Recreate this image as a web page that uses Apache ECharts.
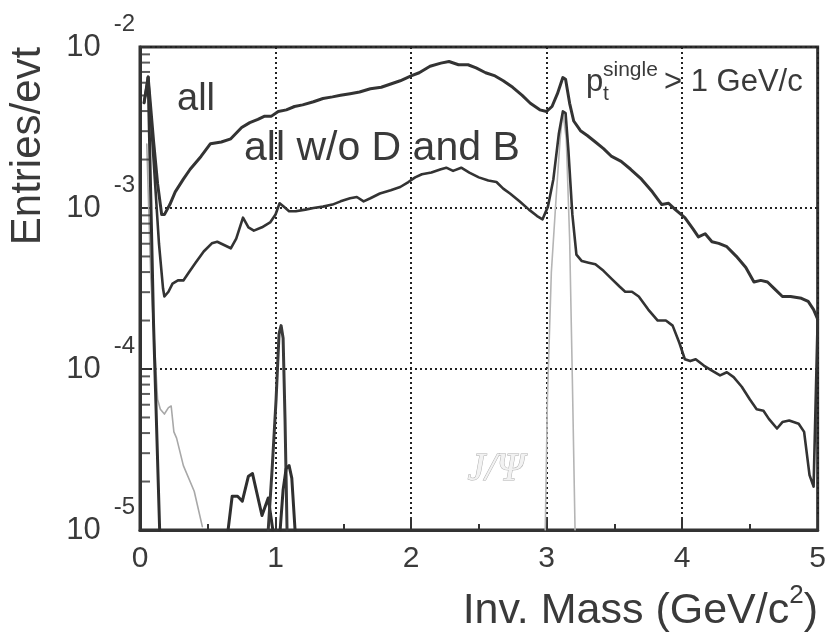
<!DOCTYPE html>
<html>
<head>
<meta charset="utf-8">
<script src="https://cdn.jsdelivr.net/npm/echarts@6/dist/echarts.min.js"></script>
<style>
  html, body { margin: 0; padding: 0; background: #ffffff; }
  #chart { width: 829px; height: 636px; }
</style>
</head>
<body>
<div id="chart"></div>
<script>
// ---------- DATA ----------
// x: invariant mass (GeV/c^2); y: entries per event
const allX = [0.03,0.06,0.10,0.13,0.16,0.18,0.22,0.26,0.32,0.37,0.45,0.52,0.60,0.67,0.75,0.81,0.87,0.92,0.97,1.02,1.08,1.14,1.20,1.28,1.35,1.42,1.48,1.55,1.62,1.70,1.78,1.85,1.92,2.00,2.06,2.14,2.22,2.28,2.35,2.42,2.48,2.55,2.62,2.68,2.75,2.82,2.88,2.95,3.00,3.04,3.08,3.12,3.14,3.17,3.20,3.25,3.30,3.36,3.42,3.48,3.55,3.62,3.70,3.78,3.85,3.90,3.95,4.02,4.08,4.12,4.17,4.22,4.27,4.33,4.40,4.47,4.53,4.58,4.63,4.68,4.74,4.80,4.88,4.93,4.97,5.00];
const allY = [4.5e-3,6.5e-3,2.6e-3,1.41e-3,9.1e-4,9.1e-4,1.05e-3,1.26e-3,1.51e-3,1.74e-3,2.09e-3,2.51e-3,2.57e-3,2.69e-3,3.16e-3,3.39e-3,3.55e-3,3.72e-3,3.72e-3,3.98e-3,4.07e-3,4.27e-3,4.37e-3,4.57e-3,4.79e-3,4.90e-3,5.01e-3,5.13e-3,5.25e-3,5.50e-3,5.62e-3,5.89e-3,6.17e-3,6.61e-3,6.92e-3,7.59e-3,7.94e-3,8.13e-3,7.76e-3,7.76e-3,7.41e-3,6.92e-3,6.61e-3,6.17e-3,5.62e-3,5.01e-3,4.47e-3,4.07e-3,3.98e-3,4.27e-3,5.13e-3,6.46e-3,6.31e-3,4.47e-3,3.47e-3,3.02e-3,2.82e-3,2.57e-3,2.34e-3,2.09e-3,1.95e-3,1.74e-3,1.51e-3,1.26e-3,1.05e-3,1.07e-3,9.77e-4,8.71e-4,7.41e-4,6.61e-4,6.92e-4,6.17e-4,6.03e-4,5.75e-4,5.01e-4,4.27e-4,3.47e-4,3.55e-4,3.47e-4,3.16e-4,2.82e-4,2.82e-4,2.75e-4,2.63e-4,2.34e-4,2.04e-4];

const woX = [0.03,0.06,0.10,0.14,0.17,0.18,0.21,0.24,0.28,0.32,0.36,0.41,0.47,0.53,0.57,0.62,0.67,0.71,0.76,0.80,0.84,0.90,0.96,1.00,1.03,1.06,1.10,1.15,1.22,1.28,1.35,1.42,1.48,1.55,1.60,1.65,1.70,1.77,1.85,1.92,1.98,2.03,2.08,2.15,2.22,2.26,2.31,2.37,2.43,2.50,2.57,2.63,2.68,2.73,2.80,2.87,2.93,2.97,3.01,3.05,3.09,3.12,3.14,3.16,3.19,3.22,3.26,3.31,3.36,3.42,3.48,3.54,3.58,3.63,3.68,3.75,3.82,3.88,3.93,3.98,4.02,4.06,4.10,4.16,4.22,4.28,4.33,4.38,4.44,4.50,4.55,4.60,4.64,4.70,4.74,4.79,4.86,4.90,4.94,4.97,5.00];
const woY = [4.5e-3,6.5e-3,2.0e-3,6.0e-4,3.16e-4,2.82e-4,3.02e-4,3.39e-4,3.55e-4,3.55e-4,3.98e-4,4.57e-4,5.37e-4,6.03e-4,6.17e-4,5.89e-4,5.62e-4,6.46e-4,8.71e-4,7.59e-4,7.24e-4,7.59e-4,8.13e-4,9.12e-4,1.07e-3,1.02e-3,9.55e-4,9.55e-4,9.77e-4,1.0e-3,1.02e-3,1.05e-3,1.10e-3,1.15e-3,1.17e-3,1.10e-3,1.15e-3,1.23e-3,1.29e-3,1.35e-3,1.45e-3,1.55e-3,1.62e-3,1.66e-3,1.74e-3,1.78e-3,1.70e-3,1.78e-3,1.66e-3,1.55e-3,1.48e-3,1.45e-3,1.32e-3,1.23e-3,1.10e-3,9.77e-4,8.91e-4,8.51e-4,1.02e-3,1.51e-3,2.88e-3,3.98e-3,3.89e-3,2.34e-3,9.12e-4,5.13e-4,4.68e-4,4.57e-4,4.47e-4,4.07e-4,3.63e-4,3.24e-4,3.02e-4,3.02e-4,2.82e-4,2.34e-4,2.0e-4,2.0e-4,1.86e-4,1.45e-4,1.15e-4,1.12e-4,1.15e-4,1.05e-4,9.77e-5,9.12e-5,9.55e-5,8.91e-5,7.76e-5,6.46e-5,5.62e-5,5.50e-5,4.90e-5,4.27e-5,4.68e-5,4.79e-5,4.57e-5,4.07e-5,2.19e-5,1.86e-5,2.04e-4];

const lowMassX = [0.06,0.10,0.145];
const lowMassY = [6.5e-3,1.9e-4,1.0e-5];

const dalitzX = [0.05,0.08,0.13,0.15,0.18,0.21,0.23,0.25,0.27,0.32,0.40,0.46];
const dalitzY = [2.5e-3,3.63e-4,6.46e-5,5.62e-5,5.25e-5,5.75e-5,5.89e-5,4.07e-5,3.72e-5,2.51e-5,1.74e-5,1.05e-5];

const rhoX = [0.65,0.68,0.72,0.755,0.80,0.83,0.90,0.946,0.98];
const rhoY = [1.0e-5,1.62e-5,1.62e-5,1.51e-5,2.16e-5,2.24e-5,1.23e-5,1.58e-5,1.0e-5];

const phiX = [0.946,0.975,1.004,1.026,1.041,1.056,1.070,1.078,1.085];
const phiY = [1.0e-5,2.4e-5,6.46e-5,1.66e-4,1.86e-4,1.55e-4,4.9e-5,2.1e-5,1.0e-5];

const phi2X = [1.034,1.056,1.078,1.10,1.12,1.144];
const phi2Y = [1.0e-5,1.78e-5,2.4e-5,2.51e-5,2.1e-5,1.0e-5];

const jpsiX = [2.99,3.006,3.035,3.07,3.10,3.12,3.145,3.17,3.19,3.21];
const jpsiY = [1.0e-5,6.46e-5,3.98e-4,1.15e-3,2.69e-3,3.98e-3,2.69e-3,6.46e-4,8.7e-5,1.0e-5];

// axis ticks
const xTickLabels = ['0','1','2','3','4','5'];
const yTickValues = [1e-5, 1e-4, 1e-3, 1e-2];
const yTickExponents = ['-5','-4','-3','-2'];
const yMinorTicks = [2e-5,3e-5,4e-5,5e-5,6e-5,7e-5,8e-5,9e-5,2e-4,3e-4,4e-4,5e-4,6e-4,7e-4,8e-4,9e-4,2e-3,3e-3,4e-3,5e-3,6e-3,7e-3,8e-3,9e-3];

// ---------- CHART ----------
const FONT = "'Liberation Sans', Arial, Helvetica, sans-serif";
const INK = '#333333';
const TXT = '#3a3a3a';
const zip = (xs, ys) => xs.map((x, i) => [x, ys[i]]);

const chart = echarts.init(document.getElementById('chart'), null, { renderer: 'canvas' });

function lineSeries(name, xs, ys, color, width, z) {
  return {
    name: name, type: 'line', data: zip(xs, ys), showSymbol: false, symbol: 'none',
    lineStyle: { color: color, width: width, join: 'round', cap: 'round' },
    silent: true, animation: false, z: z || 3
  };
}

const option = {
  backgroundColor: '#ffffff',
  animation: false,
  grid: { left: 140, right: 7, top: 47, bottom: 106, show: true, borderColor: INK, borderWidth: 3, backgroundColor: 'transparent' },
  xAxis: {
    type: 'value', min: 0, max: 5, interval: 1,
    axisLine: { show: true, lineStyle: { color: INK, width: 3 } },
    axisTick: { show: true, inside: true, length: 13, lineStyle: { color: INK, width: 2 } },
    minorTick: { show: true, splitNumber: 2, length: 6, lineStyle: { color: INK, width: 2 } },
    splitLine: { show: true, lineStyle: { color: '#222', width: 2, type: [2, 3] } },
    axisLabel: {
      margin: 14, fontSize: 30, fontFamily: FONT, color: TXT,
      formatter: (v) => xTickLabels[Math.round(v)] || ''
    }
  },
  yAxis: {
    type: 'log', logBase: 10, min: 1e-5, max: 1e-2,
    axisLine: { show: true, lineStyle: { color: INK, width: 3 } },
    axisTick: { show: true, inside: true, length: 10, lineStyle: { color: INK, width: 2 } },
    splitLine: { show: true, lineStyle: { color: '#222', width: 2, type: [2, 3] } },
    axisLabel: {
      margin: 5, align: 'right', verticalAlign: 'middle',
      formatter: (v) => {
        let best = 0;
        yTickValues.forEach((t, i) => { if (Math.abs(Math.log10(t) - Math.log10(v)) < Math.abs(Math.log10(yTickValues[best]) - Math.log10(v))) best = i; });
        return '{b|10}{e|' + yTickExponents[best] + '}';
      },
      rich: {
        b: { fontSize: 31, fontFamily: FONT, color: TXT, verticalAlign: 'middle' },
        e: { fontSize: 24, fontFamily: FONT, color: TXT, verticalAlign: 'middle', padding: [0, 0, 46, 13] }
      }
    }
  },
  series: [
    lineSeries('J/Psi', jpsiX, jpsiY, '#b5b5b5', 1.6, 2),
    lineSeries('dalitz', dalitzX, dalitzY, '#a8a8a8', 1.6, 2),
    lineSeries('lowmass', lowMassX, lowMassY, '#2f2f2f', 3, 3),
    lineSeries('rho', rhoX, rhoY, '#2f2f2f', 3, 3),
    lineSeries('phi', phiX, phiY, '#3a3a3a', 3, 3),
    lineSeries('phi2', phi2X, phi2Y, '#2f2f2f', 3, 3),
    lineSeries('all w/o D and B', woX, woY, '#333333', 2.6, 4),
    lineSeries('all', allX, allY, '#333333', 3, 5),
    {
      name: 'yMinorTicks', type: 'scatter', silent: true, animation: false, z: 6,
      data: yMinorTicks.map(v => [0, v]),
      symbol: 'rect', symbolSize: [9, 2], symbolOffset: [5.5, 0],
      itemStyle: { color: INK }, clip: false
    }
  ],
  graphic: [
    { type: 'text', x: 177, y: 100, silent: true,
      style: { text: 'all', fontSize: 38, fontFamily: FONT, fill: TXT, align: 'left', verticalAlign: 'middle' } },
    { type: 'text', x: 244, y: 149, silent: true,
      style: { text: 'all w/o D and B', fontSize: 41, fontFamily: FONT, fill: TXT, align: 'left', verticalAlign: 'middle' } },
    { type: 'text', x: 586, y: 82, silent: true,
      style: { text: 'p', fontSize: 31, fontFamily: FONT, fill: TXT, align: 'left', verticalAlign: 'middle' } },
    { type: 'text', x: 603, y: 70.5, silent: true,
      style: { text: 'single', fontSize: 21, fontFamily: FONT, fill: TXT, align: 'left', verticalAlign: 'middle' } },
    { type: 'text', x: 603, y: 94.5, silent: true,
      style: { text: 't', fontSize: 21, fontFamily: FONT, fill: TXT, align: 'left', verticalAlign: 'middle' } },
    { type: 'text', x: 664, y: 82, silent: true,
      style: { text: '> 1 GeV/c', fontSize: 31, fontFamily: FONT, fill: TXT, align: 'left', verticalAlign: 'middle' } },
    { type: 'text', x: 496, y: 469, silent: true,
      style: { text: 'J/\u03A8', fontSize: 40, fontStyle: 'italic', fontFamily: "'Liberation Serif', 'DejaVu Serif', serif", fill: '#f2f2f2', stroke: '#b0b0b0', lineWidth: 1, align: 'center', verticalAlign: 'middle' } },
    { type: 'text', x: 28, y: 146, rotation: Math.PI / 2, silent: true,
      style: { text: 'Entries/evt', fontSize: 42, fontFamily: FONT, fill: TXT, align: 'center', verticalAlign: 'middle' } },
    { type: 'text', x: 818, y: 611, silent: true,
      style: {
        text: '{a|Inv. Mass (GeV/c}{s|2}{a|)}', align: 'right', verticalAlign: 'middle',
        rich: {
          a: { fontSize: 43, fontFamily: FONT, fill: TXT, color: TXT, verticalAlign: 'middle' },
          s: { fontSize: 26, fontFamily: FONT, fill: TXT, color: TXT, verticalAlign: 'middle', padding: [0, 0, 30, 0] }
        }
      } }
  ]
};
chart.setOption(option);
</script>
</body>
</html>
